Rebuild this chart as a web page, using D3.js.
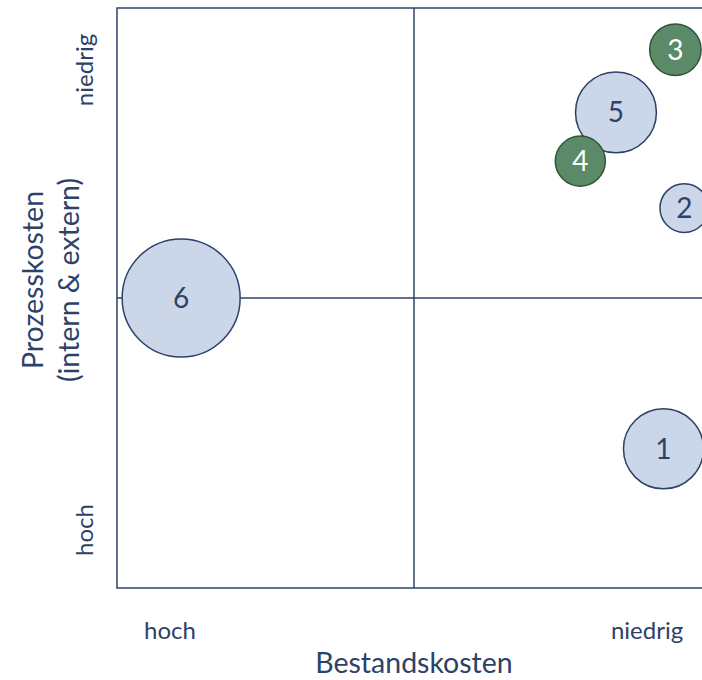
<!DOCTYPE html>
<html>
<head>
<meta charset="utf-8">
<script src="https://cdn.jsdelivr.net/npm/d3@7"></script>
<style>
  html, body { margin: 0; padding: 0; background: #fff; }
  svg { display: block; font-family: Lato, "Open Sans", sans-serif; }
</style>
</head>
<body>
<svg id="chart" width="702" height="680"></svg>
<script>
// bubble data (x: Bestandskosten, y: Prozesskosten, size)
const labels = ["1", "2", "3", "4", "5", "6"];
const xValues = [92, 95.5, 94, 78, 84, 10.8];
const yValues = [24, 65.5, 92.8, 73.6, 82, 50];
const sizes = [46, 17, 19, 18, 47, 100];
const groups = ["blue", "blue", "green", "green", "blue", "blue"];

const xTicks = ["hoch", "niedrig"];
const yTicks = ["hoch", "niedrig"];

const navy = "#2c4268";
const fills = { blue: "#cbd6e9", green: "#5b8a68" };
const strokes = { blue: "#2c4268", green: "#2f5535" };
const textCol = { blue: "#2c4268", green: "#ffffff" };

const data = labels.map((l, i) => ({
    label: l, x: xValues[i], y: yValues[i], size: sizes[i], group: groups[i]
}));

const plot = { left: 117, top: 8, right: 711, bottom: 588 };

const svg = d3.select("#chart");

const x = d3.scaleLinear().domain([0, 100]).range([plot.left, plot.right]);
const y = d3.scaleLinear().domain([0, 100]).range([plot.bottom, plot.top]);
const r = d3.scaleSqrt().domain([0, 100]).range([0, 59]);

// frame + quadrant lines
svg.append("rect")
    .attr("x", plot.left).attr("y", plot.top)
    .attr("width", plot.right - plot.left).attr("height", plot.bottom - plot.top)
    .attr("fill", "none").attr("stroke", navy).attr("stroke-width", 1.5);

svg.append("line")
    .attr("x1", x(50)).attr("x2", x(50))
    .attr("y1", plot.top).attr("y2", plot.bottom)
    .attr("stroke", navy).attr("stroke-width", 1.5);

svg.append("line")
    .attr("x1", plot.left).attr("x2", plot.right)
    .attr("y1", y(50)).attr("y2", y(50))
    .attr("stroke", navy).attr("stroke-width", 1.5);

// bubbles, big ones first so small ones sit on top
const sorted = data.slice().sort((a, b) => b.size - a.size);

const g = svg.selectAll(".bubble")
    .data(sorted)
    .join("g")
    .attr("class", "bubble")
    .attr("transform", d => `translate(${x(d.x)},${y(d.y)})`);

g.append("circle")
    .attr("r", d => r(d.size))
    .attr("fill", d => fills[d.group])
    .attr("stroke", d => strokes[d.group])
    .attr("stroke-width", 1.5);

g.append("text")
    .attr("text-anchor", "middle")
    .attr("dy", "0.36em")
    .attr("font-size", 28)
    .attr("fill", d => textCol[d.group])
    .text(d => d.label);

// x axis labels
svg.append("text")
    .attr("x", 170).attr("y", 639)
    .attr("text-anchor", "middle")
    .attr("font-size", 24).attr("fill", navy)
    .text(xTicks[0]);

svg.append("text")
    .attr("x", 647).attr("y", 639)
    .attr("text-anchor", "middle")
    .attr("font-size", 24).attr("fill", navy)
    .text(xTicks[1]);

svg.append("text")
    .attr("x", x(50)).attr("y", 673)
    .attr("text-anchor", "middle")
    .attr("font-size", 28.5).attr("fill", navy)
    .text("Bestandskosten");

// y axis labels (rotated)
svg.append("text")
    .attr("transform", "translate(93,530) rotate(-90)")
    .attr("text-anchor", "middle")
    .attr("font-size", 24).attr("fill", navy)
    .text(yTicks[0]);

svg.append("text")
    .attr("transform", "translate(93,70) rotate(-90)")
    .attr("text-anchor", "middle")
    .attr("font-size", 24).attr("fill", navy)
    .text(yTicks[1]);

const yTitle = svg.append("text")
    .attr("transform", "translate(0,280) rotate(-90)")
    .attr("text-anchor", "middle")
    .attr("font-size", 28.5).attr("fill", navy);

yTitle.append("tspan").attr("x", 0).attr("y", 43).text("Prozesskosten");
yTitle.append("tspan").attr("x", 0).attr("y", 79).text("(intern & extern)");
</script>
</body>
</html>
